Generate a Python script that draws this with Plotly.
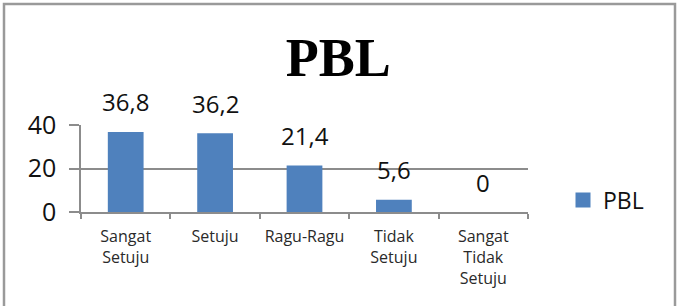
import plotly.graph_objects as go

categories = ["Sangat<br>Setuju", "Setuju", "Ragu-Ragu", "Tidak<br>Setuju", "Sangat<br>Tidak<br>Setuju"]
values = [36.8, 36.2, 21.4, 5.6, 0]
value_labels = ["36,8", "36,2", "21,4", "5,6", "0"]
y_ticks = [0, 20, 40]
series_name = "PBL"
title_text = "PBL"

BAR = "#4F81BD"
GRID = "#8C8C8C"
FONT = "Open Sans, Noto Sans, sans-serif"

L, R, T, B = 81, 157, 125, 94
W, H = 685, 306
pw = W - L - R
ph = H - T - B

fig = go.Figure()
fig.add_trace(go.Bar(x=categories, y=values, marker=dict(color=BAR, line=dict(width=0)),
                     width=0.4, showlegend=False, hoverinfo="skip"))
fig.add_trace(go.Scatter(x=[None], y=[None], mode="markers", name=series_name,
                         marker=dict(symbol="square", size=15, color=BAR), showlegend=True))

for c, v, t in zip(categories, values, value_labels):
    fig.add_annotation(x=c, y=v, text=t, showarrow=False, yanchor="middle",
                       yshift=30, font=dict(family=FONT, size=24, color="#111111"))

def px_x(px):
    return (px - L) / pw

def px_y(py):
    return (H - B - py) / ph

fig.add_shape(type="rect", xref="paper", yref="paper",
              x0=px_x(4), x1=px_x(675), y0=px_y(4), y1=px_y(312),
              line=dict(color="#9A9A9A", width=2.5), fillcolor="rgba(0,0,0,0)", layer="below")

fig.update_layout(
    width=W, height=H,
    margin=dict(l=L, r=R, t=T, b=B, autoexpand=False),
    paper_bgcolor="white", plot_bgcolor="white",
    title=dict(text="<b>" + title_text + "</b>", xref="container", yref="container",
               x=0.494, xanchor="center", y=1 - 57 / H, yanchor="middle",
               font=dict(family="Liberation Serif, Times New Roman, serif", size=54, color="black")),
    legend=dict(x=px_x(563), y=px_y(200), xanchor="left", yanchor="middle",
                font=dict(family=FONT, size=23, color="#111111"),
                bgcolor="rgba(0,0,0,0)", itemwidth=30, tracegroupgap=0),
    xaxis=dict(showline=True, linecolor=GRID, linewidth=1.5, ticks="outside",
               tickson="boundaries", ticklen=5, tickcolor=GRID, tickwidth=1.5,
               showgrid=False, tickfont=dict(family=FONT, size=16, color="#2a2a2a"),
               ticklabelstandoff=9, tickangle=0, fixedrange=True),
    yaxis=dict(range=[0, 40], tickvals=y_ticks, showline=True, linecolor=GRID, linewidth=1.5,
               ticks="outside", ticklen=10, tickcolor=GRID, tickwidth=1.5,
               showgrid=True, gridcolor=GRID, gridwidth=1.5, zeroline=False,
               tickfont=dict(family=FONT, size=25, color="#111111"),
               ticklabelstandoff=8, fixedrange=True),
    showlegend=True,
)

fig.write_html("out.html", config={"displayModeBar": False})
